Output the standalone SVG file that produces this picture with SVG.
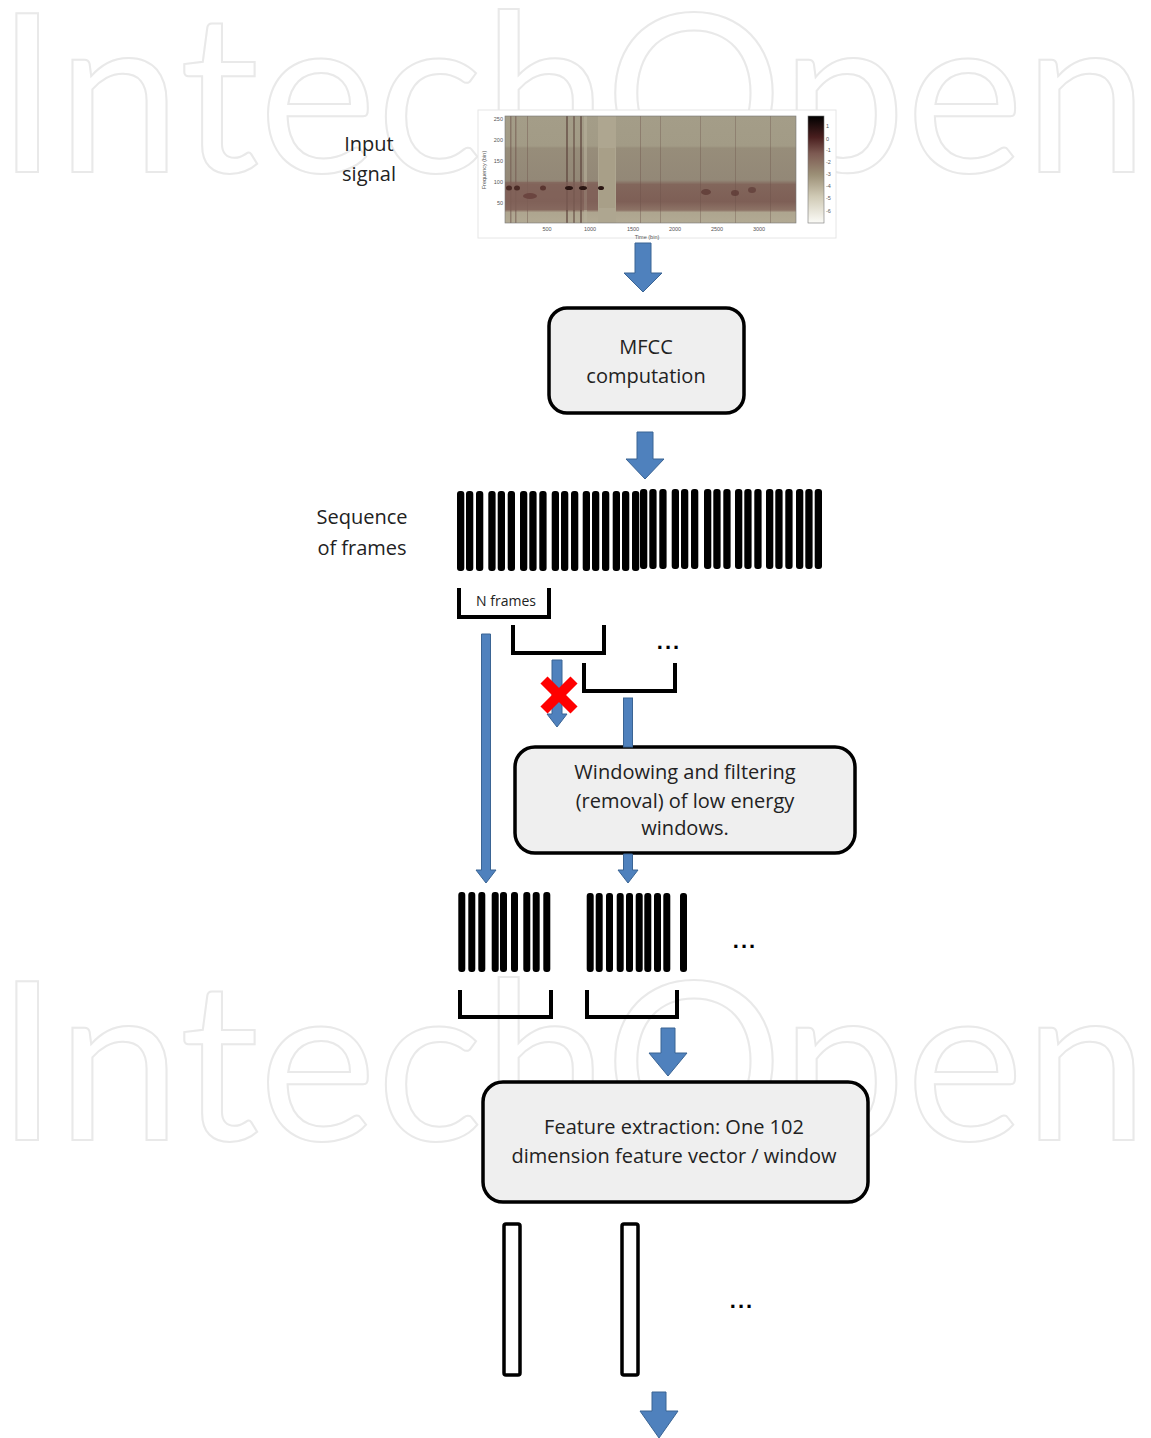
<svg xmlns="http://www.w3.org/2000/svg" width="1151" height="1438" viewBox="0 0 1151 1438">
<style>
.wm{font-family:"Lato","Open Sans",sans-serif;font-size:222px;fill:none;stroke:#e9e9e9;stroke-width:2}
.lbl{font-family:"Open Sans","Liberation Sans",sans-serif;font-size:20px;fill:#222}
.box{fill:#efefef;stroke:#000;stroke-width:3.5}
.bar{fill:#000}
.brk{fill:none;stroke:#000;stroke-width:4}
.arr{fill:#4f81bd;stroke:#3a6494;stroke-width:1}
.vec{fill:#fff;stroke:#000;stroke-width:3.5}
.tiny{font-family:"Liberation Sans",sans-serif;font-size:5.5px;fill:#555}
.dots{font-family:"Liberation Sans",sans-serif;font-size:22px;font-weight:bold;fill:#000;letter-spacing:2px}
</style>
<defs>
<linearGradient id="cbar" x1="0" y1="0" x2="0" y2="1">
<stop offset="0" stop-color="#000"/>
<stop offset="0.2" stop-color="#4a1f1f"/>
<stop offset="0.35" stop-color="#7d5a52"/>
<stop offset="0.55" stop-color="#9c9077"/>
<stop offset="0.75" stop-color="#cfc9b4"/>
<stop offset="1" stop-color="#fbfbf7"/>
</linearGradient>
<linearGradient id="spec" x1="0" y1="0" x2="0" y2="1">
<stop offset="0" stop-color="#a49d88"/>
<stop offset="0.28" stop-color="#a29b86"/>
<stop offset="0.3" stop-color="#978d7a"/>
<stop offset="0.6" stop-color="#938877"/>
<stop offset="0.64" stop-color="#82665b"/>
<stop offset="0.8" stop-color="#7e5f56"/>
<stop offset="0.88" stop-color="#8d7366"/>
<stop offset="0.9" stop-color="#aea58f"/>
<stop offset="1" stop-color="#b2aa94"/>
</linearGradient>
<clipPath id="plot"><rect x="505" y="116" width="291" height="107"/></clipPath>
</defs>

<g id="watermark">
<text class="wm" x="-4" y="172" textLength="1152" lengthAdjust="spacingAndGlyphs">IntechOpen</text>
<text class="wm" x="-4" y="1140" textLength="1152" lengthAdjust="spacingAndGlyphs">IntechOpen</text>
</g>

<g id="input-signal">
<text class="lbl" x="369" y="151" text-anchor="middle" font-size="21">Input</text>
<text class="lbl" x="369" y="181" text-anchor="middle" font-size="21">signal</text>
<rect x="478" y="110" width="358" height="128" fill="#fff" stroke="#e6e6e6" stroke-width="1"/>
<g clip-path="url(#plot)">
<rect x="505" y="116" width="291" height="107" fill="url(#spec)"/>
<rect x="584" y="116" width="3" height="107" fill="#b7b09b" opacity="0.6"/>
<rect x="598" y="116" width="18" height="107" fill="#aea690"/>
<rect x="599" y="148" width="16" height="60" fill="#a89f88"/>
<rect x="510" y="116" width="1.5" height="107" fill="#6b5048" opacity="0.5"/>
<rect x="515" y="116" width="1.5" height="107" fill="#6b5048" opacity="0.5"/>
<rect x="566" y="116" width="2" height="107" fill="#5a3f38" opacity="0.6"/>
<rect x="573" y="116" width="2" height="107" fill="#5a3f38" opacity="0.5"/>
<rect x="580" y="116" width="2" height="107" fill="#5a3f38" opacity="0.6"/>
<rect x="527" y="116" width="1" height="107" fill="#6b5048" opacity="0.4"/>
<rect x="640" y="116" width="1" height="107" fill="#6b5048" opacity="0.4"/>
<rect x="660" y="116" width="1" height="107" fill="#6b5048" opacity="0.35"/>
<rect x="700" y="116" width="1" height="107" fill="#6b5048" opacity="0.35"/>
<rect x="735" y="116" width="1" height="107" fill="#6b5048" opacity="0.35"/>
<rect x="770" y="116" width="1" height="107" fill="#6b5048" opacity="0.35"/>
<rect x="505" y="182" width="93" height="28" fill="#82625a" opacity="0.6"/>
<ellipse cx="509" cy="188" rx="3" ry="2.5" fill="#4a2a25"/>
<ellipse cx="517" cy="188" rx="3" ry="2.5" fill="#4a2a25"/>
<ellipse cx="530" cy="196" rx="7" ry="3" fill="#6b4540"/>
<ellipse cx="543" cy="188" rx="3" ry="2.5" fill="#5a3530"/>
<ellipse cx="569" cy="188" rx="4" ry="2" fill="#2a1512"/>
<ellipse cx="583" cy="188" rx="4" ry="2" fill="#2a1512"/>
<ellipse cx="601" cy="188" rx="3" ry="2" fill="#2a1512"/>
<ellipse cx="706" cy="192" rx="5" ry="3" fill="#5e3b36" opacity="0.8"/>
<ellipse cx="735" cy="193" rx="4" ry="3" fill="#5e3b36" opacity="0.8"/>
<ellipse cx="752" cy="190" rx="4" ry="3" fill="#5e3b36" opacity="0.7"/>
</g>
<rect x="505" y="116" width="291" height="107" fill="none" stroke="#777" stroke-width="0.6"/>
<g class="tiny">
<text x="503" y="121" text-anchor="end">250</text>
<text x="503" y="142" text-anchor="end">200</text>
<text x="503" y="163" text-anchor="end">150</text>
<text x="503" y="184" text-anchor="end">100</text>
<text x="503" y="205" text-anchor="end">50</text>
<text x="547" y="231" text-anchor="middle">500</text>
<text x="590" y="231" text-anchor="middle">1000</text>
<text x="633" y="231" text-anchor="middle">1500</text>
<text x="675" y="231" text-anchor="middle">2000</text>
<text x="717" y="231" text-anchor="middle">2500</text>
<text x="759" y="231" text-anchor="middle">3000</text>
<text x="647" y="239" text-anchor="middle">Time (bin)</text>
<text transform="translate(486,170) rotate(-90)" text-anchor="middle">Frequency (bin)</text>
</g>
<rect x="808" y="116" width="16" height="107" fill="url(#cbar)" stroke="#777" stroke-width="0.6"/>
<g class="tiny" font-size="5">
<text x="826" y="128">1</text>
<text x="826" y="141">0</text>
<text x="826" y="152">-1</text>
<text x="826" y="164">-2</text>
<text x="826" y="176">-3</text>
<text x="826" y="188">-4</text>
<text x="826" y="200">-5</text>
<text x="826" y="213">-6</text>
</g>
</g>

<g id="mfcc">
<rect class="box" x="549" y="308" width="195" height="105" rx="18"/>
<text class="lbl" x="646" y="354" text-anchor="middle">MFCC</text>
<text class="lbl" x="646" y="383" text-anchor="middle">computation</text>
</g>

<g id="sequence-of-frames">
<text class="lbl" x="362" y="524" text-anchor="middle" font-size="21">Sequence</text>
<text class="lbl" x="362" y="555" text-anchor="middle" font-size="21">of frames</text>
<g class="bar">
<rect x="457" y="491" width="7.3" height="80" rx="3"/>
<rect x="466" y="491" width="7.3" height="80" rx="3"/>
<rect x="476" y="491" width="7.3" height="80" rx="3"/>
<rect x="488.3" y="491" width="7.3" height="80" rx="3"/>
<rect x="497.7" y="491" width="7.3" height="80" rx="3"/>
<rect x="507.7" y="491" width="7.3" height="80" rx="3"/>
<rect x="520" y="491" width="7.3" height="80" rx="3"/>
<rect x="529.3" y="491" width="7.3" height="80" rx="3"/>
<rect x="539.3" y="491" width="7.3" height="80" rx="3"/>
<rect x="551.7" y="491" width="7.3" height="80" rx="3"/>
<rect x="561" y="491" width="7.3" height="80" rx="3"/>
<rect x="571" y="491" width="7.3" height="80" rx="3"/>
<rect x="582.7" y="491" width="7.3" height="80" rx="3"/>
<rect x="592" y="491" width="7.3" height="80" rx="3"/>
<rect x="602" y="491" width="7.3" height="80" rx="3"/>
<rect x="612.7" y="491" width="7.3" height="80" rx="3"/>
<rect x="622" y="491" width="7.3" height="80" rx="3"/>
<rect x="632" y="491" width="7.3" height="80" rx="3"/>
<rect x="640" y="489" width="7.3" height="80" rx="3"/>
<rect x="649.3" y="489" width="7.3" height="80" rx="3"/>
<rect x="659.3" y="489" width="7.3" height="80" rx="3"/>
<rect x="671.7" y="489" width="7.3" height="80" rx="3"/>
<rect x="681" y="489" width="7.3" height="80" rx="3"/>
<rect x="691" y="489" width="7.3" height="80" rx="3"/>
<rect x="704" y="489" width="7.3" height="80" rx="3"/>
<rect x="713.3" y="489" width="7.3" height="80" rx="3"/>
<rect x="723.3" y="489" width="7.3" height="80" rx="3"/>
<rect x="735" y="489" width="7.3" height="80" rx="3"/>
<rect x="744.3" y="489" width="7.3" height="80" rx="3"/>
<rect x="754.3" y="489" width="7.3" height="80" rx="3"/>
<rect x="766" y="489" width="7.3" height="80" rx="3"/>
<rect x="775.3" y="489" width="7.3" height="80" rx="3"/>
<rect x="785.3" y="489" width="7.3" height="80" rx="3"/>
<rect x="796" y="489" width="7.3" height="80" rx="3"/>
<rect x="805.3" y="489" width="7.3" height="80" rx="3"/>
<rect x="814.7" y="489" width="7.3" height="80" rx="3"/>
</g>
</g>

<g id="windows">
<polyline class="brk" points="459,588 459,617 549,617 549,588"/>
<text x="506" y="606" text-anchor="middle" font-family="Open Sans, Liberation Sans, sans-serif" font-size="14" fill="#222">N frames</text>
<polyline class="brk" points="513,625 513,653 604,653 604,625"/>
<polyline class="brk" points="584,663 584,691 675,691 675,663"/>
<text class="dots" x="669" y="649" text-anchor="middle">...</text>
</g>

<g id="windowing">
<rect class="box" x="515" y="747" width="340" height="106" rx="20"/>
<text class="lbl" x="685" y="779" text-anchor="middle">Windowing and filtering</text>
<text class="lbl" x="685" y="808" text-anchor="middle">(removal) of low energy</text>
<text class="lbl" x="685" y="835" text-anchor="middle">windows.</text>
</g>

<g id="filtered-windows">
<g class="bar">
<rect x="458.3" y="892" width="7" height="80" rx="3"/>
<rect x="468.3" y="892" width="7" height="80" rx="3"/>
<rect x="478.3" y="892" width="7" height="80" rx="3"/>
<rect x="491.7" y="892" width="7" height="80" rx="3"/>
<rect x="500" y="892" width="7" height="80" rx="3"/>
<rect x="511" y="892" width="7" height="80" rx="3"/>
<rect x="523.3" y="892" width="7" height="80" rx="3"/>
<rect x="532.7" y="892" width="7" height="80" rx="3"/>
<rect x="543.3" y="892" width="7" height="80" rx="3"/>
<rect x="586.7" y="893" width="7" height="79" rx="3"/>
<rect x="595.7" y="893" width="7" height="79" rx="3"/>
<rect x="606" y="893" width="7" height="79" rx="3"/>
<rect x="616.7" y="893" width="7" height="79" rx="3"/>
<rect x="626" y="893" width="7" height="79" rx="3"/>
<rect x="635.7" y="893" width="7" height="79" rx="3"/>
<rect x="644.3" y="893" width="7" height="79" rx="3"/>
<rect x="654" y="893" width="7" height="79" rx="3"/>
<rect x="663.3" y="893" width="7" height="79" rx="3"/>
<rect x="680" y="893" width="7" height="79" rx="3"/>
</g>
<text class="dots" x="745" y="948" text-anchor="middle">...</text>
<polyline class="brk" points="460,990 460,1017 551,1017 551,990"/>
<polyline class="brk" points="587,990 587,1017 677,1017 677,990"/>
</g>

<g id="feature-extraction">
<rect class="box" x="483" y="1082" width="385" height="120" rx="20"/>
<text class="lbl" x="674" y="1134" text-anchor="middle">Feature extraction: One 102</text>
<text class="lbl" x="674" y="1163" text-anchor="middle">dimension feature vector / window</text>
</g>

<g id="feature-vectors">
<rect class="vec" x="504" y="1224" width="16" height="151" rx="2"/>
<rect class="vec" x="622" y="1224" width="16" height="151" rx="2"/>
<text class="dots" x="742" y="1308" text-anchor="middle">...</text>
</g>

<g id="connectors">
<path class="arr" d="M635,243 H651 V273 H662 L643,292 L624,273 H635 Z"/>
<path class="arr" d="M637,432 H653 V459 H664 L645,479 L626,459 H637 Z"/>
<path class="arr" d="M481.5,634 H490.5 V870 H496 L486,883 L476,870 H481.5 Z"/>
<path class="arr" d="M552,660 H562 V714 H567 L557,727 L547,714 H552 Z"/>
<rect class="arr" x="623.5" y="698" width="9" height="49"/>
<path class="arr" d="M623.5,854 H632.5 V870 H638 L628,883 L618,870 H623.5 Z"/>
<path class="arr" d="M661,1028 H675 V1053 H687 L668,1076 L649,1053 H661 Z"/>
<path class="arr" d="M652,1392 H666 V1411 H678 L659,1438 L640,1411 H652 Z"/>
<g stroke="#ff0000" stroke-width="10" stroke-linecap="butt">
<line x1="544" y1="680" x2="574" y2="710"/>
<line x1="574" y1="680" x2="544" y2="710"/>
</g>
</g>
</svg>
